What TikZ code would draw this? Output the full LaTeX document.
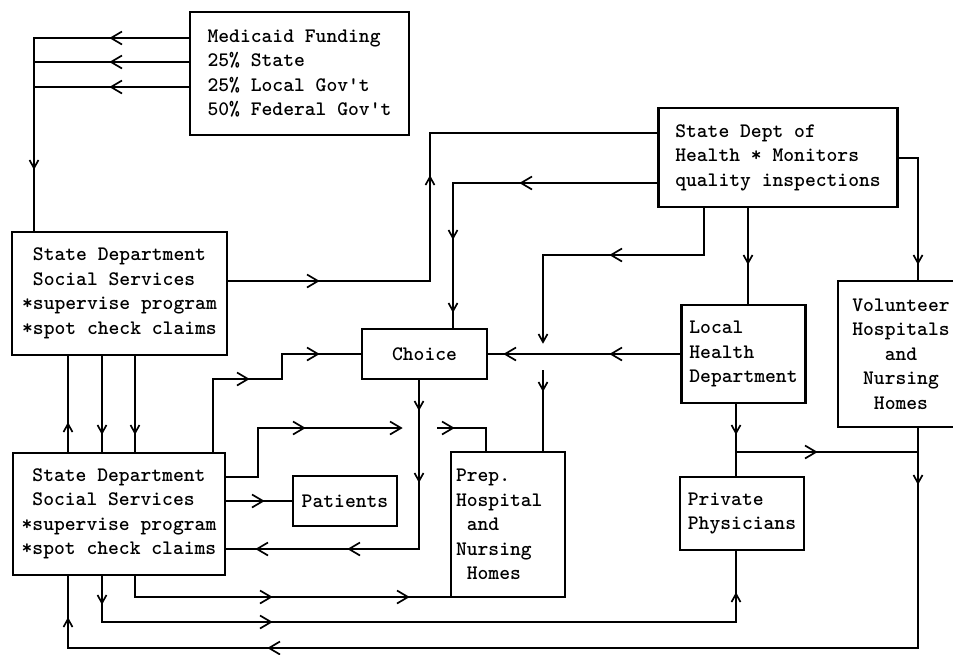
\documentclass[tikz,border=0pt]{standalone}
\usepackage{fontspec}
\begin{document}
\begin{tikzpicture}[x=1pt,y=-1pt,
  txt/.style={font=\fontsize{20.6}{24.5}\ttfamily\bfseries},
  box/.style={draw, line width=2.2pt, inner sep=0pt, align=left, txt},
  conn/.style={line width=2.2pt},
  chev/.style={line width=1.7pt, line join=miter},
  chevR/.pic={\draw[chev] (-10,-6.5) -- (1,0) -- (-10,6.5);},
  chevL/.pic={\draw[chev] (10,-6.5) -- (-1,0) -- (10,6.5);},
  chevD/.pic={\draw[chev] (-4.5,-7) -- (0,1) -- (4.5,-7);},
  chevU/.pic={\draw[chev] (-4.5,7) -- (0,-1) -- (4.5,7);}
]
\fill[white] (0,0) rectangle (953,654);
\useasboundingbox (0,0) rectangle (953,654);

% boxes
\node[box, minimum width=219pt, minimum height=123pt] (mf) at (299.5,73.5)
  {Medicaid Funding\\25\% State\\25\% Local Gov't\\50\% Federal Gov't};
\node[box, minimum width=239pt, minimum height=99pt] (sdh) at (778,157.5)
  {State Dept of\\Health * Monitors\\quality inspections};
\node[box, minimum width=215pt, minimum height=123pt] (sd1) at (119.5,293.5)
  {\phantom{x}State Department\\\phantom{x}Social Services\\*supervise program\\*spot check claims};
\node[box, minimum width=212pt, minimum height=122pt] (sd2) at (119,514)
  {\phantom{x}State Department\\\phantom{x}Social Services\\*supervise program\\*spot check claims};
\node[box, minimum width=125pt, minimum height=50pt, align=center] (choice) at (424.5,354) {Choice};
\node[box, minimum width=124pt, minimum height=98pt] (lhd) at (743.5,354)
  {Local\\Health\\Department};
\node[box, minimum width=126pt, minimum height=146pt, align=center] (vol) at (901,354)
  {Volunteer\\Hospitals\\and\\Nursing\\Homes};
\node[box, minimum width=104pt, minimum height=50pt, align=center] (pat) at (345,501) {Patients};
\node[box, minimum width=114pt, minimum height=145pt, text width=104pt] (prep) at (508,524.5)
  {Prep.\\Hospital\\\phantom{x}and\\Nursing\\\phantom{x}Homes};
\node[box, minimum width=124pt, minimum height=73pt] (pp) at (742,513.5)
  {Private\\Physicians};

% junction coordinates
\coordinate (m1) at (34,38);
\coordinate (m2) at (34,62);
\coordinate (m3) at (34,87);
\coordinate (a1) at (430,281);
\coordinate (a2) at (659,133);
\coordinate (h1) at (453,183);
\coordinate (h2) at (918,158);
\coordinate (b0) at (704,207);
\coordinate (b1) at (543,255);
\coordinate (b2) at (543,341);
\coordinate (b3) at (543,370);
\coordinate (g1) at (748,207);
\coordinate (c0) at (419,379);
\coordinate (c1) at (419,549);
\coordinate (s1) at (213,379);
\coordinate (s2) at (282,379);
\coordinate (p1) at (258,477);
\coordinate (p2) at (258,428);
\coordinate (p3) at (400,428);
\coordinate (p4) at (437,428);
\coordinate (p5) at (486,428);
\coordinate (v1) at (68,0);
\coordinate (v2) at (102,0);
\coordinate (v3) at (135,0);
\coordinate (q1) at (135,597);
\coordinate (r1) at (102,622);
\coordinate (r2) at (736,622);
\coordinate (d1) at (918,648);
\coordinate (d2) at (68,648);
\coordinate (e0) at (736,403);
\coordinate (e1) at (736,452);
\coordinate (e2) at (918,452);

% connectors
\draw[conn] (mf.west|-m1) -- (m1) -- (m1|-sd1.north);
\draw[conn] (mf.west|-m2) -- (m2);
\draw[conn] (mf.west|-m3) -- (m3);
\draw[conn] (sd1.east|-a1) -- (a1) |- (sdh.west|-a2);
\draw[conn] (sdh.west|-h1) -| (h1|-choice.north);
\draw[conn] (sdh.east|-h2) -| (h2|-vol.north);
\draw[conn] (sdh.south-|b0) |- (b1) -- (b2);
\draw[conn] (b3) -- (b3|-prep.north);
\draw[conn] (sdh.south-|g1) -- (g1|-lhd.north);
\draw[conn] (lhd.west) -- (choice.east);
\draw[conn] (choice.south-|c0) -- (c1) -- (c1-|sd2.east);
\draw[conn] (sd2.north-|s1) -- (s1) -- (s2) |- (choice.west);
\draw[conn] (sd2.east|-p1) -- (p1) -- (p2) -- (p3);
\draw[conn] (p4) -- (p5) -- (p5|-prep.north);
\draw[conn] (sd2.east|-pat.west) -- (pat.west);
\draw[conn] (sd2.north-|v1) -- (sd1.south-|v1);
\draw[conn] (sd1.south-|v2) -- (sd2.north-|v2);
\draw[conn] (sd1.south-|v3) -- (sd2.north-|v3);
\draw[conn] (sd2.south-|q1) -- (q1) -- (q1-|prep.west);
\draw[conn] (sd2.south-|r1) -- (r1) -- (r2) -- (r2|-pp.south);
\draw[conn] (vol.south-|d1) -- (d1) -- (d2) -- (sd2.south-|d2);
\draw[conn] (lhd.south-|e0) -- (e0|-pp.north);
\draw[conn] (e1) -- (e2);

% arrowheads
\pic at (112,38) {chevL};
\pic at (112,62) {chevL};
\pic at (112,87) {chevL};
\pic at (34,167) {chevD};
\pic at (317,281) {chevR};
\pic at (430,178) {chevU};
\pic at (522,183) {chevL};
\pic at (453,237) {chevD};
\pic at (453,310) {chevD};
\pic at (918,262) {chevD};
\pic at (612,255) {chevL};
\pic at (543,341) {chevD};
\pic at (543,389) {chevD};
\pic at (748,262) {chevD};
\pic at (612,354) {chevL};
\pic at (506,354) {chevL};
\pic at (419,408) {chevD};
\pic at (419,480) {chevD};
\pic at (350,549) {chevL};
\pic at (258,549) {chevL};
\pic at (247,379) {chevR};
\pic at (317,354) {chevR};
\pic at (303,428) {chevR};
\pic at (400,428) {chevR};
\pic at (452,428) {chevR};
\pic at (262,501) {chevR};
\pic at (68,425) {chevU};
\pic at (102,432) {chevD};
\pic at (135,432) {chevD};
\pic at (270,597) {chevR};
\pic at (407,597) {chevR};
\pic at (102,602) {chevD};
\pic at (270,622) {chevR};
\pic at (736,595) {chevU};
\pic at (918,482) {chevD};
\pic at (270,648) {chevL};
\pic at (68,620) {chevU};
\pic at (736,432) {chevD};
\pic at (815,452) {chevR};
\end{tikzpicture}
\end{document}
